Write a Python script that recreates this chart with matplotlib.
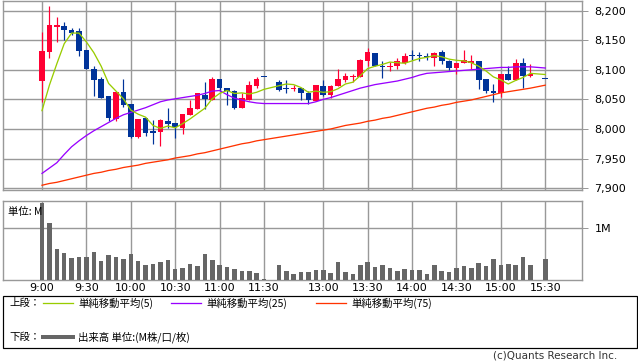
import matplotlib
matplotlib.use('Agg')
import matplotlib.pyplot as plt
from matplotlib.patches import Rectangle
from matplotlib.lines import Line2D

# ---------------- data ----------------
times = ["9:00", "9:05", "9:10", "9:15", "9:20", "9:25", "9:30", "9:35", "9:40", "9:45",
         "9:50", "9:55", "10:00", "10:05", "10:10", "10:15", "10:20", "10:25", "10:30", "10:35",
         "10:40", "10:45", "10:50", "10:55", "11:00", "11:05", "11:10", "11:15", "11:20", "11:25",
         "11:30",
         "12:30", "12:35", "12:40", "12:45", "12:50", "12:55", "13:00", "13:05", "13:10", "13:15",
         "13:20", "13:25", "13:30", "13:35", "13:40", "13:45", "13:50", "13:55", "14:00", "14:05",
         "14:10", "14:15", "14:20", "14:25", "14:30", "14:35", "14:40", "14:45", "14:50", "14:55",
         "15:00", "15:05", "15:10", "15:15", "15:20",
         "15:30"]

opens = [8081, 8130, 8172, 8174, 8168, 8165, 8133, 8101, 8084, 8055,
         8017, 8062, 8042, 7987, 8018, 7996, 7995, 8013, 8010, 8002,
         8023, 8034, 8058, 8049, 8084, 8069, 8064, 8035, 8049, 8072,
         8087,
         8080, 8070, 8067, 8070, 8060, 8048, 8072, 8058, 8072, 8082,
         8087, 8088, 8115, 8129, 8107, 8104, 8106, 8112, 8125, 8125,
         8122, 8120, 8130, 8114, 8103, 8111, 8112, 8114, 8084, 8065,
         8060, 8093, 8082, 8112, 8089,
         8085]
highs = [8163, 8207, 8189, 8180, 8170, 8170, 8133, 8106, 8087, 8055,
         8062, 8085, 8042, 8017, 8018, 8015, 8017, 8035, 8010, 8026,
         8049, 8061, 8079, 8087, 8084, 8070, 8066, 8060, 8081, 8087,
         8087,
         8082, 8082, 8074, 8070, 8065, 8075, 8082, 8075, 8101, 8094,
         8093, 8119, 8137, 8129, 8114, 8113, 8120, 8129, 8133, 8130,
         8128, 8130, 8134, 8116, 8112, 8133, 8125, 8114, 8084, 8076,
         8093, 8107, 8119, 8120, 8109,
         8085]
lows = [8045, 8120, 8147, 8151, 8158, 8124, 8101, 8055, 8053, 8013,
        8013, 8037, 7984, 7985, 7989, 7974, 7971, 8001, 7985, 7991,
        8023, 8034, 8034, 8049, 8065, 8040, 8033, 8035, 8049, 8070,
        8087,
        8065, 8061, 8064, 8049, 8042, 8047, 8055, 8053, 8072, 8079,
        8079, 8087, 8107, 8106, 8086, 8098, 8101, 8109, 8116, 8114,
        8117, 8106, 8109, 8100, 8093, 8111, 8101, 8067, 8061, 8046,
        8054, 8082, 8082, 8070, 8087,
        8085]
closes = [8131, 8175, 8175, 8167, 8162, 8131, 8102, 8082, 8053, 8019,
          8062, 8040, 7987, 8017, 7993, 7993, 8015, 8008, 8003, 8025,
          8035, 8060, 8050, 8084, 8069, 8064, 8035, 8053, 8074, 8084,
          8087,
          8066, 8067, 8070, 8060, 8049, 8074, 8058, 8073, 8084, 8089,
          8089, 8116, 8130, 8106, 8104, 8107, 8114, 8124, 8124, 8124,
          8121, 8129, 8114, 8103, 8112, 8116, 8115, 8082, 8064, 8061,
          8093, 8082, 8112, 8089, 8093,
          8085]

ma5 = [8031, 8074, 8110, 8144, 8162, 8162, 8147, 8129, 8106, 8077,
       8064, 8051, 8032, 8025, 8020, 8006, 8001, 8005, 8002, 8009,
       8017, 8026, 8035, 8051, 8060, 8065, 8060, 8061, 8059, 8062,
       8067,
       8073, 8076, 8075, 8070, 8062, 8064, 8062, 8063, 8068, 8076,
       8079, 8090, 8102, 8106, 8109, 8113, 8112, 8111, 8115, 8119,
       8121, 8124, 8122, 8118, 8116, 8115, 8112, 8106, 8098, 8088,
       8083, 8076, 8082, 8087, 8094,
       8092]
ma25 = [7925, 7934, 7943, 7957, 7970, 7980, 7989, 7997, 8004, 8011,
        8018, 8024, 8028, 8032, 8036, 8041, 8046, 8049, 8051, 8053,
        8055, 8057, 8060, 8064, 8065, 8058, 8052, 8049, 8046, 8044,
        8043,
        8043, 8043, 8043, 8043, 8043, 8046, 8050, 8053, 8057, 8061,
        8065, 8069, 8072, 8075, 8077, 8079, 8081, 8084, 8087, 8091,
        8094, 8095, 8096, 8097, 8098, 8099, 8100, 8101, 8102, 8103,
        8104, 8104, 8105, 8105, 8105,
        8103]
ma75 = [7905, 7908, 7910, 7913, 7916, 7919, 7922, 7925, 7927, 7930,
        7932, 7935, 7937, 7939, 7942, 7944, 7946, 7948, 7951, 7953,
        7955, 7958, 7960, 7963, 7966, 7969, 7972, 7975, 7977, 7980,
        7982,
        7986, 7988, 7990, 7992, 7994, 7996, 7998, 8000, 8003, 8006,
        8008, 8010, 8013, 8015, 8018, 8020, 8023, 8026, 8029, 8032,
        8035, 8037, 8040, 8042, 8045, 8047, 8049, 8052, 8055, 8058,
        8061, 8063, 8065, 8067, 8069,
        8074]
volume = [1.48, 1.10, 0.60, 0.52, 0.43, 0.45, 0.45, 0.54, 0.37, 0.48,
          0.45, 0.41, 0.50, 0.37, 0.29, 0.31, 0.35, 0.39, 0.21, 0.23,
          0.31, 0.27, 0.50, 0.39, 0.29, 0.25, 0.21, 0.17, 0.17, 0.14,
          0.02,
          0.29, 0.17, 0.12, 0.15, 0.15, 0.19, 0.19, 0.14, 0.35, 0.15,
          0.12, 0.29, 0.35, 0.25, 0.29, 0.23, 0.17, 0.21, 0.19, 0.19,
          0.12, 0.29, 0.17, 0.15, 0.23, 0.27, 0.23, 0.33, 0.27, 0.41,
          0.29, 0.31, 0.29, 0.45, 0.29,
          0.41]

tick_labels = ["9:00", "9:30", "10:00", "10:30", "11:00", "11:30",
               "13:00", "13:30", "14:00", "14:30", "15:00", "15:30"]
price_ticks = [7900, 7950, 8000, 8050, 8100, 8150, 8200]
price_labels = ["7,900", "7,950", "8,000", "8,050", "8,100", "8,150", "8,200"]
legend_upper = ["単純移動平均(5)", "単純移動平均(25)", "単純移動平均(75)"]
legend_lower = "出来高 単位:(M株/口/枚)"


# ---------------- layout helpers ----------------
def slot(t):
    h, m = map(int, t.split(':'))
    mins = h * 60 + m
    if mins <= 11 * 60 + 30:
        return (mins - 540) / 5
    return 32 + (mins - 750) / 5


W, H = 638, 362
PX = 72 / 100  # points per pixel at dpi 100

RED = '#ff0033'
BLUE = '#003399'
C5 = '#99cc00'
C25 = '#9900ff'
C75 = '#ff3300'
GRID = '#999999'
VOLC = '#666666'

plt.rcParams['font.family'] = ['DejaVu Sans']
CJK = ['Noto Sans CJK JP', 'DejaVu Sans']

fig = plt.figure(figsize=(W / 100, H / 100), dpi=100)
fig.patch.set_facecolor('white')

def fx(px):
    return px / W

def fy(py):
    return 1 - py / H

left, right = 3, 582
ax = fig.add_axes([fx(left), fy(190), fx(right - left), (190 - 0.5) / H])
axv = fig.add_axes([fx(left), fy(280), fx(right - left), 79 / H])

xs = [slot(t) for t in times]
tick_pos = [slot(t) for t in tick_labels]
XL = (-5.27, 72.97)

# candles
for x, o, h, l, c in zip(xs, opens, highs, lows, closes):
    col = RED if c > o else BLUE
    ax.vlines(x, l, h, color=col, lw=1.0 * PX * 1.2, zorder=3)
    body = abs(c - o)
    hgt = max(body, 1.7)
    ax.bar(x, hgt, bottom=min(o, c), width=0.78, color=col, lw=0, zorder=4)

ax.plot(xs, ma75, color=C75, lw=1.3 * PX, zorder=5)
ax.plot(xs, ma25, color=C25, lw=1.3 * PX, zorder=5)
ax.plot(xs, ma5, color=C5, lw=1.3 * PX, zorder=6)

ax.set_xlim(*XL)
ax.set_ylim(7897, 8217)
ax.set_yticks(price_ticks)
ax.set_yticklabels(price_labels)
ax.set_xticks(tick_pos)
ax.yaxis.tick_right()
ax.tick_params(axis='y', length=4 * PX / 0.72 * 0.72 * 1.4, width=1 * PX, color=GRID,
               labelsize=8, pad=5)
ax.tick_params(axis='x', length=0, labelbottom=False)
ax.grid(True, color=GRID, lw=1.4 * PX, zorder=0)
ax.set_axisbelow(True)
for s in ax.spines.values():
    s.set_color(GRID)
    s.set_linewidth(1.4 * PX)

# volume
axv.bar(xs, volume, width=0.62, color=VOLC, lw=0, zorder=3)
axv.set_xlim(*XL)
axv.set_ylim(0, 1.52)
axv.set_yticks([1.0])
axv.set_yticklabels(["1M"])
axv.yaxis.tick_right()
axv.set_xticks(tick_pos)
axv.set_xticklabels(tick_labels)
axv.tick_params(axis='y', length=4 * PX * 1.4, width=1 * PX, color=GRID, labelsize=8, pad=5)
axv.tick_params(axis='x', length=0, labelsize=8, pad=2)
axv.grid(True, color=GRID, lw=1.4 * PX, zorder=0)
axv.set_axisbelow(True)
for s in axv.spines.values():
    s.set_color(GRID)
    s.set_linewidth(1.4 * PX)
axv.text(0.009, 0.93, "単位: M", transform=axv.transAxes, family=CJK, fontsize=7.5,
         va='top', ha='left', zorder=5)

# legend box
fig.patches.append(Rectangle((fx(3), fy(348)), fx(634), 52 / H, fill=False,
                             edgecolor='black', lw=1.2 * PX, transform=fig.transFigure))
y1 = fy(303)
y2 = fy(337)
fig.text(fx(9), y1, "上段：", family=CJK, fontsize=7.5, va='center', ha='left')
for (lx, tx), col, lab in zip([(43, 78), (171, 206), (316, 351)], [C5, C25, C75], legend_upper):
    fig.add_artist(Line2D([fx(lx), fx(lx + 30)], [y1, y1], color=col, lw=1.3 * PX,
                          transform=fig.transFigure))
    fig.text(fx(tx), y1, lab, family=CJK, fontsize=7.5, va='center', ha='left')
fig.text(fx(9), y2, "下段：", family=CJK, fontsize=7.5, va='center', ha='left')
fig.add_artist(Line2D([fx(43), fx(73)], [y2, y2], color=VOLC, lw=4 * PX,
                      transform=fig.transFigure))
fig.text(fx(78), y2, legend_lower, family=CJK, fontsize=7.5, va='center', ha='left')

fig.text(fx(617), fy(356), "(c)Quants Research Inc.", fontsize=7.5, color='#333333',
         va='center', ha='right')

fig.savefig('out.png', dpi=100)
